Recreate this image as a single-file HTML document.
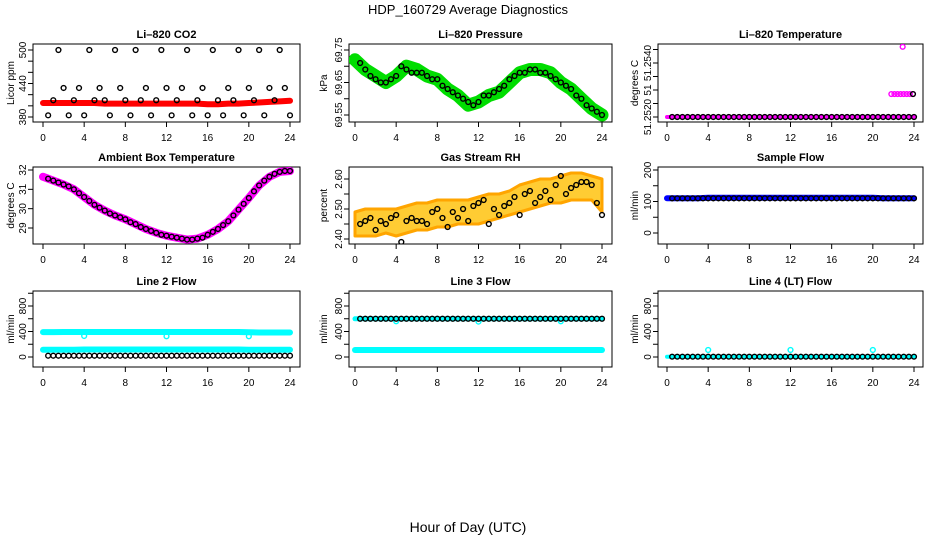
<!DOCTYPE html>
<html><head><meta charset="utf-8"><title>HDP_160729 Average Diagnostics</title>
<style>
html,body{margin:0;padding:0;background:#fff;}
svg{display:block;font-family:"Liberation Sans",Arial,sans-serif;}
</style></head>
<body>
<svg id="chart" width="936" height="540" viewBox="0 0 936 540" xmlns="http://www.w3.org/2000/svg">
<text x="468" y="14" text-anchor="middle" font-size="13">HDP_160729  Average Diagnostics</text>
<text x="468" y="532" text-anchor="middle" font-size="14">Hour of Day (UTC)</text>
</svg>
<script>
// ---- data ----
const xTicks = [0,4,8,12,16,20,24];
const bandHours = [0,1,2,3,4,5,6,7,8,9,10,11,12,13,14,15,16,17,18,19,20,21,22,23,24];
const blackHours = [0.5,1,1.5,2,2.5,3,3.5,4,4.5,5,5.5,6,6.5,7,7.5,8,8.5,9,9.5,10,10.5,11,11.5,12,12.5,13,13.5,14,14.5,15,15.5,16,16.5,17,17.5,18,18.5,19,19.5,20,20.5,21,21.5,22,22.5,23,23.5,24];

const co2Band = [405,405,405,405,405,405,404,404,404,404,404,404,404,404,404,404,403,403,404,404,405,406,407,408,409];
const co2Black = [383,410,500,432,383,410,432,383,500,410,432,410,383,500,432,410,383,500,410,432,383,410,500,432,383,410,432,500,383,410,432,383,500,410,383,432,410,500,383,432,410,500,383,432,410,500,432,383];

const pressBand = [69.72,69.69,69.67,69.65,69.67,69.70,69.69,69.67,69.66,69.63,69.61,69.58,69.59,69.61,69.62,69.65,69.68,69.69,69.69,69.68,69.65,69.63,69.60,69.57,69.55];
const pressBlack = [69.71,69.69,69.67,69.66,69.65,69.65,69.66,69.67,69.70,69.69,69.68,69.68,69.68,69.67,69.66,69.66,69.64,69.63,69.62,69.61,69.60,69.59,69.58,69.59,69.61,69.61,69.62,69.63,69.64,69.66,69.67,69.68,69.68,69.69,69.69,69.68,69.68,69.67,69.66,69.65,69.64,69.63,69.61,69.60,69.58,69.57,69.56,69.55];

const tempBand = [51.2520,51.2520,51.2520,51.2520,51.2520,51.2520,51.2520,51.2520,51.2520,51.2520,51.2520,51.2520,51.2520,51.2520,51.2520,51.2520,51.2520,51.2520,51.2520,51.2520,51.2520,51.2520,51.2520,51.2520,51.2520];
const tempBlack = [51.2520,51.2520,51.2520,51.2520,51.2520,51.2520,51.2520,51.2520,51.2520,51.2520,51.2520,51.2520,51.2520,51.2520,51.2520,51.2520,51.2520,51.2520,51.2520,51.2520,51.2520,51.2520,51.2520,51.2520,51.2520,51.2520,51.2520,51.2520,51.2520,51.2520,51.2520,51.2520,51.2520,51.2520,51.2520,51.2520,51.2520,51.2520,51.2520,51.2520,51.2520,51.2520,51.2520,51.2520,51.2520,51.2520,51.2520,51.2520];
const tempHighHours = [21.8,22.1,22.4,22.7,23.0,23.3,23.6,23.9];
const tempHighVals = [51.25285,51.25285,51.25285,51.25285,51.25285,51.25285,51.25285,51.25285];
const tempSpikeHours = [22.9];
const tempSpikeVals = [51.2546];

const ambBand = [31.65,31.45,31.25,31.0,30.6,30.2,29.9,29.65,29.45,29.2,28.95,28.75,28.6,28.5,28.4,28.45,28.65,28.95,29.35,29.95,30.55,31.2,31.65,31.9,31.95];
const ambBlack = [31.55,31.45,31.35,31.25,31.15,31.0,30.8,30.6,30.4,30.2,30.05,29.9,29.75,29.65,29.55,29.45,29.3,29.2,29.05,28.95,28.85,28.75,28.65,28.6,28.55,28.5,28.45,28.4,28.4,28.45,28.5,28.65,28.8,28.95,29.15,29.35,29.65,29.95,30.25,30.55,30.9,31.2,31.45,31.65,31.8,31.9,31.95,31.95];

const rhLow = [2.41,2.41,2.41,2.42,2.41,2.42,2.43,2.43,2.44,2.44,2.45,2.45,2.45,2.46,2.47,2.48,2.49,2.50,2.51,2.52,2.52,2.53,2.53,2.53,2.49];
const rhHigh = [2.49,2.50,2.50,2.50,2.50,2.51,2.52,2.52,2.53,2.53,2.53,2.53,2.54,2.55,2.55,2.56,2.58,2.59,2.60,2.60,2.61,2.62,2.62,2.61,2.60];
const rhBlack = [2.45,2.46,2.47,2.43,2.46,2.45,2.47,2.48,2.39,2.46,2.47,2.46,2.46,2.45,2.49,2.50,2.47,2.44,2.49,2.47,2.50,2.46,2.51,2.52,2.53,2.45,2.50,2.48,2.51,2.52,2.54,2.48,2.55,2.56,2.52,2.54,2.56,2.53,2.58,2.61,2.55,2.57,2.58,2.59,2.59,2.58,2.52,2.48];

const sampleBand = [110,110,110,110,112,112,112,112,112,112,112,112,112,112,112,112,112,112,112,112,112,110,110,110,110];
const sampleBlack = [110,110,110,110,110,110,110,110,110,110,110,110,110,110,110,110,110,110,110,110,110,110,110,110,110,110,110,110,110,110,110,110,110,110,110,110,110,110,110,110,110,110,110,110,110,110,110,110];

const line2Upper = [390,390,392,392,392,392,392,392,392,392,392,392,392,392,392,392,392,392,392,392,388,385,385,385,385];
const line2Lower = [115,115,115,115,118,118,118,118,118,118,118,118,118,118,118,118,118,118,118,118,115,115,115,115,115];
const line2DipHours = [4,12,20];
const line2DipVals = [330,325,325];
const line2Black = [20,20,20,20,20,20,20,20,20,20,20,20,20,20,20,20,20,20,20,20,20,20,20,20,20,20,20,20,20,20,20,20,20,20,20,20,20,20,20,20,20,20,20,20,20,20,20,20];

const line3Upper = [600,600,600,600,600,600,600,600,600,600,600,600,600,600,600,600,600,600,600,600,600,600,600,600,600];
const line3Lower = [110,110,110,110,110,110,110,110,110,110,110,110,110,110,110,110,110,110,110,110,110,110,110,110,110];
const line3DipHours = [4,12,20];
const line3DipVals = [560,555,560];
const line3Black = [600,600,600,600,600,600,600,600,600,600,600,600,600,600,600,600,600,600,600,600,600,600,600,600,600,600,600,600,600,600,600,600,600,600,600,600,600,600,600,600,600,600,600,600,600,600,600,600];

const line4Band = [5,5,5,5,5,5,5,5,5,5,5,5,5,5,5,5,5,5,5,5,5,5,5,5,5];
const line4SpikeHours = [4,12,20];
const line4SpikeVals = [110,110,110];
const line4Black = [5,5,5,5,5,5,5,5,5,5,5,5,5,5,5,5,5,5,5,5,5,5,5,5,5,5,5,5,5,5,5,5,5,5,5,5,5,5,5,5,5,5,5,5,5,5,5,5];

// ---- layout ----
const NS = "http://www.w3.org/2000/svg";
const svg = document.getElementById('chart');
const cols = [{L:33,R:300,x0:43,x24:290,lab:10,tl:23},{L:349,R:612,x0:355,x24:602,lab:323,tl:339},{L:658,R:923,x0:667,x24:914,lab:634,tl:648}];
const rows = [{T:44,B:122},{T:167,B:244},{T:291,B:367}];

function mk(tag, attrs, parent){ const e=document.createElementNS(NS,tag); for(const k in attrs) e.setAttribute(k,attrs[k]); (parent||svg).appendChild(e); return e; }

function panel(ci, ri, title, ylab, v0, p0, v1, p1, ticks, labels, name){
  const c=cols[ci], r=rows[ri];
  const g=mk('g',{});
  
  
  const xs=h=>c.x0+(h/24)*(c.x24-c.x0);
  const ys=v=>p0+(v-v0)/(v1-v0)*(p1-p0);
  const box=mk('rect',{x:c.L,y:r.T,width:c.R-c.L,height:r.B-r.T,fill:'none',stroke:'#000','stroke-width':1},g);
  
  
  const t=mk('text',{x:(c.L+c.R)/2,y:r.T-6,'text-anchor':'middle','font-size':11,'font-weight':'bold'},g);
  t.textContent=title;
  
  
  const yl=mk('text',{transform:`translate(${c.lab+4},${(r.T+r.B)/2}) rotate(-90)`,'text-anchor':'middle','font-size':10},g);
  yl.textContent=ylab;
  
  
  // x axis
  xTicks.forEach(h=>{
    const x=xs(h);
    mk('line',{x1:x,x2:x,y1:r.B,y2:r.B+5,stroke:'#000'},g);
    const tx=mk('text',{x:x,y:r.B+19,'text-anchor':'middle','font-size':10},g);
    tx.textContent=String(h);
    
    
  });
  // y axis
  ticks.forEach(v=>{
    const y=ys(v);
    mk('line',{x1:c.L,x2:c.L-5,y1:y,y2:y,stroke:'#000'},g);
  });
  labels.forEach(l=>{
    const y=ys(l[0]);
    const tx=mk('text',{transform:`translate(${c.tl+3},${y}) rotate(-90)`,'text-anchor':'middle','font-size':10},g);
    tx.textContent=l[1];
    
    
  });
  const clip='clip'+ci+ri;
  const cp=mk('clipPath',{id:clip},g); mk('rect',{x:c.L,y:r.T,width:c.R-c.L,height:r.B-r.T},cp);
  const pg=mk('g',{'clip-path':`url(#${clip})`},g);
  return {xs,ys,g:pg};
}
function band(P, hours, vals, color, width, name){
  const pts=hours.map((h,i)=>P.xs(h).toFixed(1)+','+P.ys(vals[i]).toFixed(1)).join(' ');
  const pl=mk('polyline',{points:pts,fill:'none',stroke:color,'stroke-width':width,'stroke-linejoin':'round','stroke-linecap':'round'},P.g);
  
  
}
function pts(P, hours, vals, color, name, r){
  hours.forEach((h,i)=>{
    const c=mk('circle',{cx:P.xs(h),cy:P.ys(vals[i]),r:r||2.4,fill:'none',stroke:color,'stroke-width':1.4},P.g);
    
    
  });
}
function area(P, hours, lo, hi, color, name){
  const a=hours.map((h,i)=>P.xs(h).toFixed(1)+','+P.ys(hi[i]).toFixed(1));
  const b=hours.map((h,i)=>P.xs(h).toFixed(1)+','+P.ys(lo[i]).toFixed(1)).reverse();
  const pg=mk('polygon',{points:a.concat(b).join(' '),fill:color,stroke:'#ffa500','stroke-width':3,'stroke-linejoin':'round'},P.g);
  
  
}

// Li-820 CO2
let P=panel(0,0,'Li\u2013820 CO2','Licor ppm',380,117,500,50,[380,400,420,440,460,480,500],[[380,'380'],[440,'440'],[500,'500']],'co2');
band(P,bandHours,co2Band,'#ff0000',6,'co2-band');
pts(P,blackHours,co2Black,'#000','co2-point');

// Pressure
P=panel(1,0,'Li\u2013820 Pressure','kPa',69.55,115,69.75,50,[69.55,69.60,69.65,69.70,69.75],[[69.55,'69.55'],[69.65,'69.65'],[69.75,'69.75']],'pressure');
band(P,bandHours,pressBand,'#00dd00',13,'pressure-band');
pts(P,blackHours,pressBlack,'#000','pressure-point');

// Li-820 Temperature
P=panel(2,0,'Li\u2013820 Temperature','degrees C',51.2520,117,51.2540,63,[51.2520,51.2525,51.2530,51.2535,51.2540,51.2545],[[51.2520,'51.2520'],[51.2530,'51'],[51.2540,'51.2540']],'li820-temp');
band(P,bandHours,tempBand,'#ff00ff',4,'li820-temp-band');
pts(P,blackHours,tempBlack,'#000','li820-temp-point');
pts(P,tempHighHours,tempHighVals,'#ff00ff','li820-temp-high-point');
pts(P,[23.9],[51.25285],'#000','li820-temp-point');
pts(P,tempSpikeHours,tempSpikeVals,'#ff00ff','li820-temp-spike');

// Ambient
P=panel(0,1,'Ambient Box Temperature','degrees C',29,228,32,170,[29,30,31,32],[[29,'29'],[30,'30'],[31,'31'],[32,'32']],'ambient');
band(P,bandHours,ambBand,'#ff00ff',8,'ambient-band');
pts(P,blackHours,ambBlack,'#000','ambient-point');

// RH
P=panel(1,1,'Gas Stream RH','percent',2.40,239,2.60,179,[2.40,2.45,2.50,2.55,2.60],[[2.40,'2.40'],[2.50,'2.50'],[2.60,'2.60']],'rh');
area(P,bandHours,rhLow,rhHigh,'#ffcc33','rh-scatter-band');
pts(P,blackHours,rhBlack,'#000','rh-point');

// Sample flow
P=panel(2,1,'Sample Flow','ml/min',0,233,200,170,[0,50,100,150,200],[[0,'0'],[100,'100'],[200,'200']],'sample-flow');
band(P,bandHours,sampleBand,'#0000ff',6,'sample-flow-band');
pts(P,blackHours,sampleBlack,'#000','sample-flow-point');

const fTicks=[0,200,400,600,800,1000], fLabels=[[0,'0'],[400,'400'],[800,'800']];
// Line 2
P=panel(0,2,'Line 2 Flow','ml/min',0,357,800,306,fTicks,fLabels,'line2');
band(P,bandHours,line2Upper,'#00ffff',6,'line2-upper-band');
band(P,bandHours,line2Lower,'#00ffff',6,'line2-lower-band');
pts(P,line2DipHours,line2DipVals,'#00ffff','line2-dip-point');
pts(P,blackHours,line2Black,'#000','line2-point');

// Line 3
P=panel(1,2,'Line 3 Flow','ml/min',0,357,800,306,fTicks,fLabels,'line3');
band(P,bandHours,line3Upper,'#00ffff',5,'line3-upper-band');
band(P,bandHours,line3Lower,'#00ffff',6,'line3-lower-band');
pts(P,line3DipHours,line3DipVals,'#00ffff','line3-dip-point');
pts(P,blackHours,line3Black,'#000','line3-point');

// Line 4
P=panel(2,2,'Line 4 (LT) Flow','ml/min',0,357,800,306,fTicks,fLabels,'line4');
band(P,bandHours,line4Band,'#00ffff',4,'line4-band');
pts(P,line4SpikeHours,line4SpikeVals,'#00ffff','line4-spike-point');
pts(P,blackHours,line4Black,'#000','line4-point');
</script>
</body></html>
